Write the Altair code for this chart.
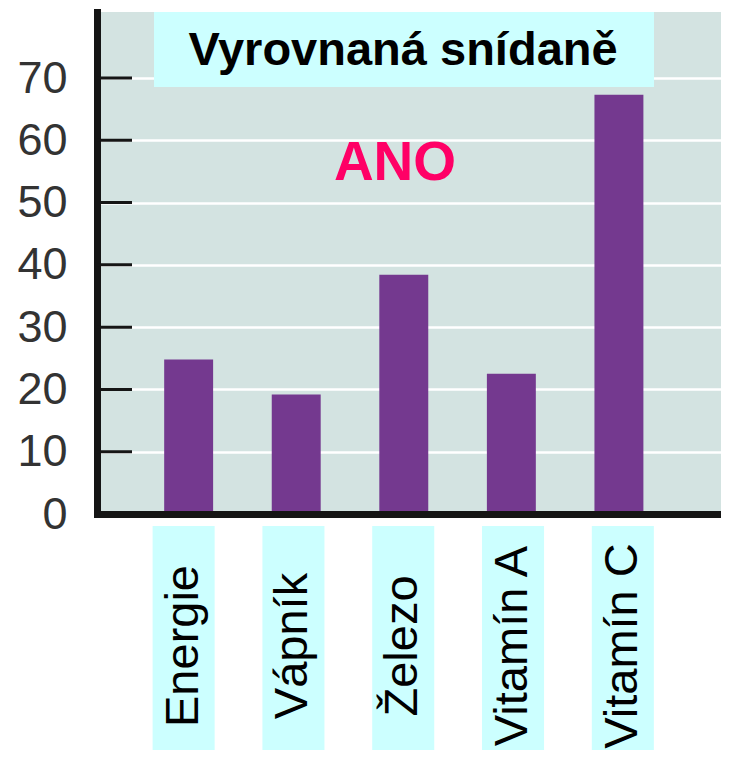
import altair as alt
import pandas as pd

categories = ["Energie", "Vápník", "Železo", "Vitamín A", "Vitamín C"]
values = [24.8, 19.2, 38.4, 22.5, 67.3]
tick_values = [0, 10, 20, 30, 40, 50, 60, 70]
inner_ticks = [10, 20, 30, 40, 50, 60, 70]
title_text = "Vyrovnaná snídaně"
note_text = "ANO"

FONT = "Liberation Sans"
BAR = "#74398f"
BOX = "#ccffff"
AXIS = "#151515"

df = pd.DataFrame({"cat": categories, "val": values})
tdf = pd.DataFrame({"t": inner_ticks})

yscale = alt.Scale(domain=[0, 80.6], nice=False, zero=True)

bars = alt.Chart(df).mark_bar(color=BAR).encode(
    x=alt.X("cat:N", sort=categories,
            scale=alt.Scale(paddingInner=0.545, paddingOuter=0.673, align=0.464),
            axis=alt.Axis(labels=False, ticks=False, title=None, domainWidth=7,
                          domainColor=AXIS, zindex=1, domainCap="square")),
    y=alt.Y("val:Q", scale=yscale,
            axis=alt.Axis(values=tick_values, grid=True, gridColor="white", gridWidth=2.5,
                          domainWidth=7, domainColor=AXIS, ticks=False, tickSize=0,
                          labelFontSize=45, labelPadding=30, labelFont=FONT,
                          labelColor="#333333", title=None, domainCap="square")),
)

ticks = alt.Chart(tdf).mark_rule(color=AXIS, strokeWidth=3).encode(
    y=alt.Y("t:Q", scale=yscale),
    x=alt.value(0), x2=alt.value(35),
)

tdata = pd.DataFrame({"t": [title_text]})
title_box = alt.Chart(tdata).mark_rect(color=BOX).encode(
    x=alt.value(57), x2=alt.value(557), y=alt.value(0), y2=alt.value(75)
)
title = alt.Chart(tdata).mark_text(font=FONT, fontSize=47, fontWeight="bold",
                                   color="black", align="center", baseline="middle").encode(
    text="t:N", x=alt.value(306), y=alt.value(39)
)
ano = alt.Chart(pd.DataFrame({"t": [note_text]})).mark_text(
    font=FONT, fontSize=55, fontWeight="bold", color="#ff0066",
    align="center", baseline="middle").encode(
    text="t:N", x=alt.value(298), y=alt.value(151)
)

lab_scale = alt.Scale(paddingInner=0.435, paddingOuter=0.559, align=0.453)
lab_boxes = alt.Chart(df).mark_bar(color=BOX).encode(
    x=alt.X("cat:N", sort=categories, scale=lab_scale, axis=None),
    y=alt.value(514), y2=alt.value(738),
)
lab_text = alt.Chart(df).mark_text(font=FONT, fontSize=47, angle=270, color="black",
                                   align="center", baseline="middle").encode(
    x=alt.X("cat:N", sort=categories, scale=lab_scale, axis=None),
    y=alt.value(634),
    text="cat:N",
)

labels = alt.layer(lab_boxes, lab_text)

chart = alt.layer(bars, ticks, title_box, title, ano, labels).resolve_scale(
    x="independent"
).properties(
    width=624, height=502,
    background="white",
    autosize=alt.AutoSizeParams(type="none"),
    padding={"left": 89, "top": 4, "right": 0, "bottom": 236},
).configure_view(fill="#d3e3e1", strokeWidth=0)

chart.save("out.html", embed_options={"renderer": "svg", "actions": False})
